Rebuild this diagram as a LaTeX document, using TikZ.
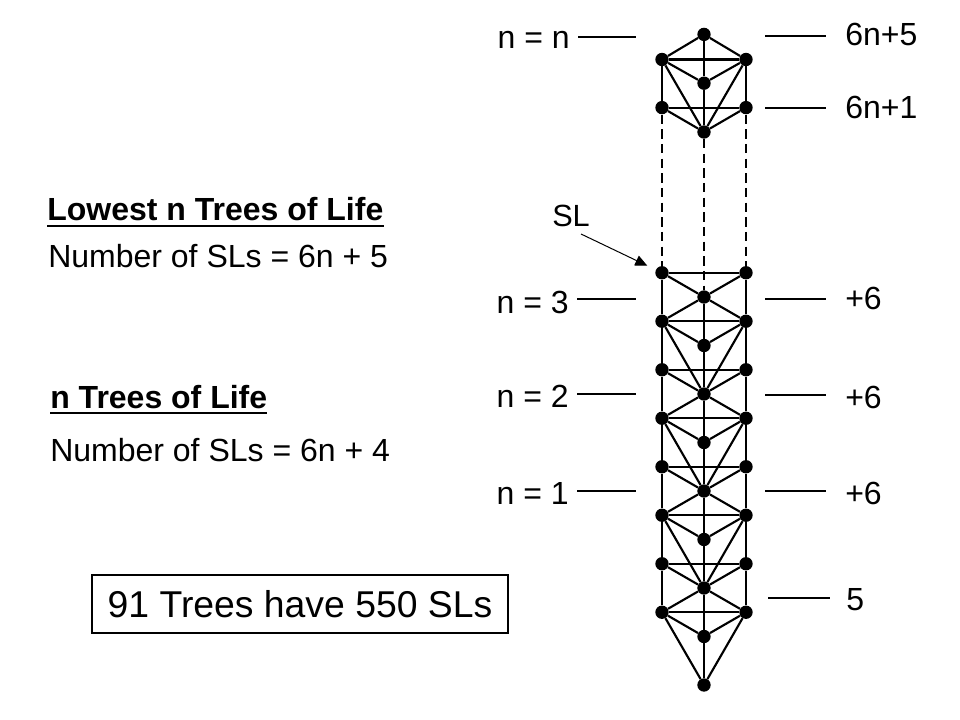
\documentclass[tikz,border=0pt]{standalone}
\usepackage{fontspec}
\setmainfont{Liberation Sans}
\usetikzlibrary{arrows.meta}
\begin{document}
\begin{tikzpicture}[x=0.75pt,y=-0.75pt,
  dot/.style={circle,fill=black,inner sep=0pt,minimum size=10pt},
  edge/.style={line width=1.6pt},
  dashline/.style={line width=1.6pt,dash pattern=on 7pt off 4pt},
  lab/.style={inner sep=0pt,font=\fontsize{24}{28}\selectfont},
  tick/.style={line width=1.6pt},
  ul/.style={line width=1.5pt}]
\useasboundingbox[fill=white] (0,0) rectangle (960,720);

% ---- lower stack of trees ----
\foreach \k in {0,2,...,16}
  \node[dot] (c\k) at (704,{685-24.25*\k}) {};
\foreach \k in {3,5,...,17}{
  \node[dot] (l\k) at (662,{685-24.25*\k}) {};
  \node[dot] (r\k) at (746,{685-24.25*\k}) {};
}
% central pillar
\foreach \k in {0,2,...,14}{
  \pgfmathtruncatemacro\n{\k+2}
  \draw[edge] (c\k) -- (c\n);
}
% side pillars
\foreach \k in {3,5,...,15}{
  \pgfmathtruncatemacro\n{\k+2}
  \draw[edge] (l\k) -- (l\n);
  \draw[edge] (r\k) -- (r\n);
}
% horizontals and short diagonals downward
\foreach \k in {3,5,...,17}{
  \pgfmathtruncatemacro\m{\k-1}
  \draw[edge] (l\k) -- (r\k);
  \draw[edge] (l\k) -- (c\m);
  \draw[edge] (r\k) -- (c\m);
}
% short up and long diagonals
\foreach \k in {3,7,11,15}{
  \pgfmathtruncatemacro\p{\k+1}
  \pgfmathtruncatemacro\q{\k-3}
  \draw[edge] (l\k) -- (c\p);
  \draw[edge] (r\k) -- (c\p);
  \draw[edge] (l\k) -- (c\q);
  \draw[edge] (r\k) -- (c\q);
}

% ---- top fragment ----
\node[dot] (tc4) at (704,132) {};
\node[dot] (tc6) at (704,83.2) {};
\node[dot] (tc8) at (704,34.4) {};
\node[dot] (tl5) at (662,107.6) {};
\node[dot] (tl7) at (662,59.5) {};
\node[dot] (tr5) at (746,107.6) {};
\node[dot] (tr7) at (746,59.5) {};
\draw[edge] (tc4) -- (tc6) -- (tc8);
\draw[edge] (tl5) -- (tl7);
\draw[edge] (tr5) -- (tr7);
\draw[edge] (tl5) -- (tr5);
\draw[edge] (tl7) -- (tr7);
\draw[edge] (tl5) -- (tc4);
\draw[edge] (tr5) -- (tc4);
\draw[edge] (tl7) -- (tc6);
\draw[edge] (tr7) -- (tc6);
\draw[edge] (tl7) -- (tc8);
\draw[edge] (tr7) -- (tc8);
\draw[edge] (tl7) -- (tc4);
\draw[edge] (tr7) -- (tc4);

% dashed continuation
\draw[dashline] (tl5) -- (l17);
\draw[dashline] (tr5) -- (r17);
\draw[dashline] (tc4) -- (c16);

% ---- left labels with ticks ----
\node[lab,anchor=base east] (nn) at (570,49) {n = n};
\coordinate (nnA) at (578,37); \coordinate (nnB) at (636,37);
\draw[tick] (nnA) -- (nnB);
\node[lab,anchor=base east] (n3) at (569,313) {n = 3};
\coordinate (n3A) at (577,299); \coordinate (n3B) at (636,299);
\draw[tick] (n3A) -- (n3B);
\node[lab,anchor=base east] (n2) at (569,407) {n = 2};
\coordinate (n2A) at (577,394); \coordinate (n2B) at (636,394);
\draw[tick] (n2A) -- (n2B);
\node[lab,anchor=base east] (n1) at (569,504) {n = 1};
\coordinate (n1A) at (577,491); \coordinate (n1B) at (636,491);
\draw[tick] (n1A) -- (n1B);

% ---- right labels with ticks ----
\coordinate (rAa) at (765,36); \coordinate (rAb) at (826,36);
\draw[tick] (rAa) -- (rAb);
\node[lab,anchor=base west] (t65) at (845,46) {6n+5};
\coordinate (rBa) at (765,108); \coordinate (rBb) at (826,108);
\draw[tick] (rBa) -- (rBb);
\node[lab,anchor=base west] (t61) at (845,119) {6n+1};
\coordinate (rCa) at (765,299); \coordinate (rCb) at (826,299);
\draw[tick] (rCa) -- (rCb);
\node[lab,anchor=base west] (p3) at (845,310) {+6};
\coordinate (rDa) at (765,395); \coordinate (rDb) at (826,395);
\draw[tick] (rDa) -- (rDb);
\node[lab,anchor=base west] (p2) at (845,408) {+6};
\coordinate (rEa) at (765,491); \coordinate (rEb) at (826,491);
\draw[tick] (rEa) -- (rEb);
\node[lab,anchor=base west] (p1) at (845,504) {+6};
\coordinate (rFa) at (768,598); \coordinate (rFb) at (830,598);
\draw[tick] (rFa) -- (rFb);
\node[lab,anchor=base west] (five) at (846,610) {5};

% ---- SL arrow ----
\node[inner sep=0pt,font=\fontsize{23}{27}\selectfont] (sl) at (571,216) {SL};
\coordinate (slA) at (581,234);
\draw[line width=0.75pt,-{Triangle[length=9pt,width=8pt]},shorten >=7pt] (slA) -- (l17);

% ---- left texts ----
\node[lab,anchor=base west,font=\fontsize{24}{28}\selectfont\bfseries] (h1) at (47,221) {Lowest n Trees of Life};
\draw[ul] ([yshift=-3.5pt]h1.base west) -- ([yshift=-3.5pt]h1.base east);
\node[lab,anchor=base west] (f1) at (48,268) {Number of SLs = 6n + 5};
\node[lab,anchor=base west,font=\fontsize{24}{28}\selectfont\bfseries] (h2) at (50,408) {n Trees of Life};
\draw[ul] ([yshift=-3.5pt]h2.base west) -- ([yshift=-3.5pt]h2.base east);
\node[lab,anchor=base west] (f2) at (50,461) {Number of SLs = 6n + 4};

% ---- box ----
\node[draw,line width=1.5pt,minimum width=312pt,minimum height=43.5pt,inner sep=0pt,
      font=\fontsize{28}{32}\selectfont] (box) at (300,604) {91 Trees have 550 SLs};
\end{tikzpicture}
\end{document}
